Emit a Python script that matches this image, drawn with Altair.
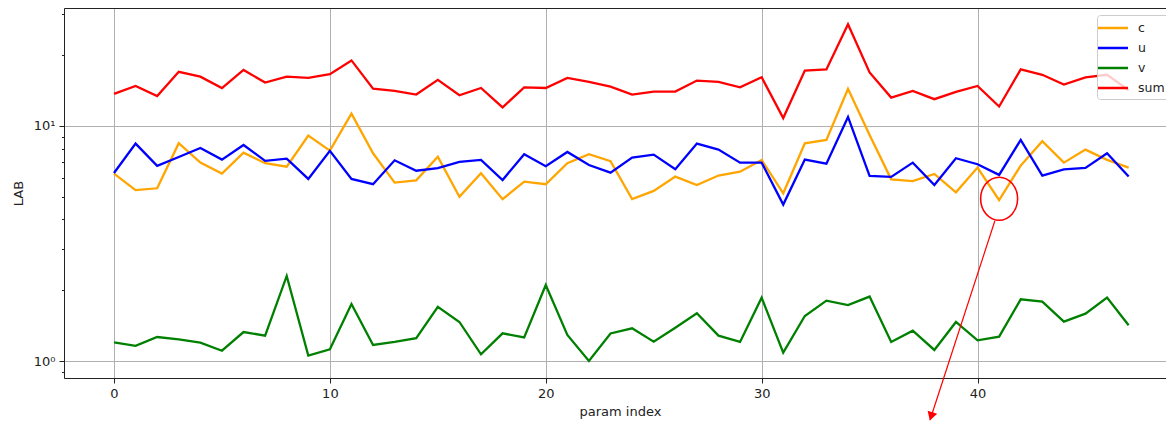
import altair as alt
import pandas as pd

# ---------------- data ----------------
param_index = list(range(48))
c_vals = [6.27, 5.33, 5.43, 8.44, 6.98, 6.27, 7.70, 6.94, 6.71, 9.09, 7.85, 11.28,
          7.65, 5.74, 5.87, 7.40, 5.00, 6.29, 4.88, 5.79, 5.65, 6.94, 7.58, 7.08, 4.88,
          5.29, 6.09, 5.61, 6.15, 6.39, 7.17, 5.17, 8.44, 8.72, 14.4, 9.16, 5.93, 5.83,
          6.25, 5.22, 6.65, 4.84, 6.78, 8.61, 6.98, 7.93, 7.17, 6.65]
u_vals = [6.31, 8.41, 6.76, 7.38, 8.06, 7.19, 8.30, 7.10, 7.26, 5.95, 7.83, 5.95,
          5.65, 7.14, 6.45, 6.61, 7.03, 7.17, 5.89, 7.58, 6.74, 7.75, 6.82, 6.33, 7.33,
          7.55, 6.54, 8.41, 7.93, 6.98, 6.98, 4.63, 7.19, 6.91, 10.92, 6.13, 6.07, 6.98,
          5.61, 7.29, 6.87, 6.19, 8.72, 6.15, 6.54, 6.63, 7.65, 6.09]
v_vals = [1.20, 1.16, 1.265, 1.236, 1.197, 1.106, 1.328, 1.282, 2.30, 1.054, 1.121, 1.748,
          1.17, 1.205, 1.25, 1.70, 1.466, 1.068, 1.311, 1.26, 2.105, 1.29, 1.00, 1.31, 1.378,
          1.208, 1.386, 1.596, 1.282, 1.205, 1.86, 1.085, 1.554, 1.806, 1.73, 1.88, 1.205, 1.346,
          1.114, 1.466, 1.225, 1.269, 1.83, 1.789, 1.47, 1.59, 1.86, 1.42]
sum_vals = [13.7, 14.8, 13.4, 17.0, 16.2, 14.5, 17.3, 15.3, 16.2, 16.0, 16.6, 19.0,
            14.4, 14.1, 13.6, 15.7, 13.5, 14.5, 12.0, 14.6, 14.5, 16.0, 15.4, 14.7, 13.6,
            14.0, 14.0, 15.6, 15.4, 14.6, 16.1, 10.8, 17.2, 17.4, 27.1, 16.9, 13.2, 14.1,
            13.0, 13.95, 14.8, 12.1, 17.4, 16.5, 15.0, 16.1, 16.5, 14.2]
series_names = ["c", "u", "v", "sum"]
series_colors = ["orange", "blue", "green", "red"]

x_ticks = [0, 10, 20, 30, 40]
y_major = [1, 10]
y_major_labels = ["10⁰", "10¹"]
y_minor = [0.9, 2, 3, 4, 5, 6, 7, 8, 9, 20, 30]

# annotation (data units): circle around the dip at index 41 and an arrow
circle_x = [41]
circle_y = [4.9]
arrow_x = [40.8]
arrow_y = [3.94]
arrow_x2 = [37.8]
arrow_y2 = [0.561]
head_x = [37.85]
head_y = [0.581]

# ---------------- build ----------------
rows = []
for name, vals in zip(series_names, [c_vals, u_vals, v_vals, sum_vals]):
    for i, val in zip(param_index, vals):
        rows.append({"param index": i, "LAB": val, "series": name})
df = pd.DataFrame(rows)

FONT = "DejaVu Sans"
GRID = "#b0b0b0"
INK = "#222222"

x_scale = alt.Scale(domain=[-2.316, 48.73], nice=False, zero=False)
y_scale = alt.Scale(type="log", domain=[0.8466, 31.75], nice=False)

label_expr = " : ".join(
    f"datum.value == {v} ? '{t}'" for v, t in zip(y_major, y_major_labels)
) + " : ''"

x_axis = alt.Axis(
    values=x_ticks, grid=True, gridColor=GRID, gridWidth=1,
    tickSize=5, tickColor=INK, domain=True, domainColor=INK, domainWidth=1,
    labelFontSize=13, labelColor=INK, labelPadding=4, labelFlush=False,
    title="param index", titleFontSize=13, titleFontWeight="normal", titleColor=INK,
    titleX=556, titleY=33, titleBaseline="middle",
)
y_axis_major = alt.Axis(
    orient="left", values=y_major, labelExpr=label_expr,
    grid=True, gridColor=GRID, gridWidth=1,
    tickSize=5, tickColor=INK, domain=True, domainColor=INK, domainWidth=1,
    labelFontSize=13, labelColor=INK, labelPadding=4, labelOverlap=False,
    title="LAB", titleFontSize=13, titleFontWeight="normal", titleColor=INK,
    titleX=-46, titleY=185, titleBaseline="middle", titleAlign="center",
)
y_axis_minor = alt.Axis(
    orient="left", values=y_minor, labels=False, grid=False,
    tickSize=2.5, tickColor=INK, domain=False, title=None,
)
top_axis = alt.Axis(orient="top", labels=False, ticks=False, grid=False,
                    domain=True, domainColor=INK, domainWidth=1, title=None)

legend = alt.Legend(
    title=None, orient="none", legendX=1033, legendY=7,
    symbolType="M-2,0H2", symbolSize=225, symbolStrokeWidth=2.5, symbolOffset=3,
    labelFontSize=12.5, labelColor=INK, labelOffset=16, padding=4, rowPadding=4,
    fillColor="rgba(255,255,255,0.8)", strokeColor="#cccccc", cornerRadius=3,
)

lines = alt.Chart(df).mark_line(strokeWidth=2.3).encode(
    x=alt.X("param index:Q", scale=x_scale, axis=x_axis),
    y=alt.Y("LAB:Q", scale=y_scale, axis=y_axis_major),
    color=alt.Color("series:N", scale=alt.Scale(domain=series_names, range=series_colors),
                    legend=legend),
)

ell_df = pd.DataFrame({"x": circle_x, "y": circle_y})
ellipse = alt.Chart(ell_df).mark_point(
    shape="M-0.86,0A0.86,1 0 1,0 0.86,0A0.86,1 0 1,0 -0.86,0Z",
    size=1849, filled=False, color="red", strokeWidth=1.6, opacity=1,
).encode(
    x=alt.X("x:Q", scale=x_scale, axis=top_axis),
    y=alt.Y("y:Q", scale=y_scale, axis=y_axis_minor),
)

arrow_df = pd.DataFrame({"x": arrow_x, "y": arrow_y, "x2": arrow_x2, "y2": arrow_y2})
arrow = alt.Chart(arrow_df).mark_rule(color="red", strokeWidth=1.2).encode(
    x=alt.X("x:Q", scale=x_scale, axis=None),
    y=alt.Y("y:Q", scale=y_scale, axis=None),
    x2="x2:Q", y2="y2:Q",
)

head_df = pd.DataFrame({"x": head_x, "y": head_y})
head = alt.Chart(head_df).mark_point(
    shape="triangle-down", size=100, filled=True, color="red", angle=17.6, opacity=1,
).encode(
    x=alt.X("x:Q", scale=x_scale, axis=None),
    y=alt.Y("y:Q", scale=y_scale, axis=None),
)

chart = (
    alt.layer(lines, ellipse, arrow, head)
    .resolve_axis(x="independent", y="independent")
    .properties(
        width=1102, height=370,
        autosize=alt.AutoSizeParams(type="none"),
        padding={"left": 64, "top": 8, "right": 0, "bottom": 43},
        background="white",
    )
    .configure_view(stroke=None)
    .configure(font=FONT)
)

chart.save("out.html", embed_options={"renderer": "svg", "actions": False})
